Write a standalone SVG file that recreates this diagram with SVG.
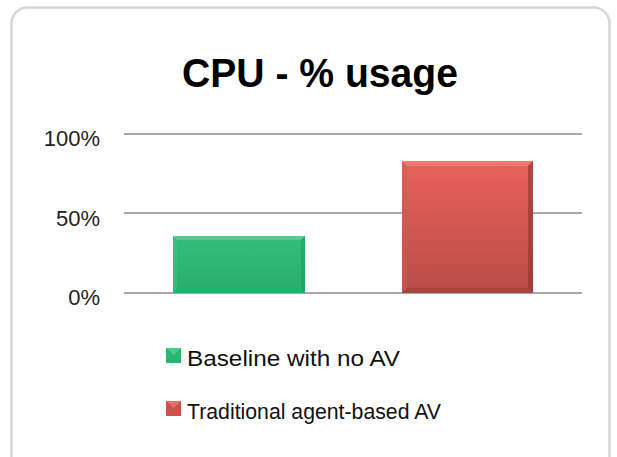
<svg xmlns="http://www.w3.org/2000/svg" width="617" height="457" viewBox="0 0 617 457">
  <style>
    .grid { stroke: #a9a9a9; stroke-width: 2; }
    .tick { font-family: "Liberation Sans", Arial, sans-serif; font-size: 22px; fill: #222; text-anchor: end; }
    .legend { font-family: "Liberation Sans", Arial, sans-serif; font-size: 22px; fill: #111; }
    .title { font-family: "Liberation Sans", Arial, sans-serif; font-size: 40px; font-weight: bold; fill: #000; text-anchor: middle; }
  </style>
  <defs>
    <linearGradient id="gGreen" x1="0" y1="0" x2="0" y2="1">
      <stop offset="0" stop-color="#35bd7e"/>
      <stop offset="1" stop-color="#27ae6c"/>
    </linearGradient>
    <linearGradient id="gRed" x1="0" y1="0" x2="0" y2="1">
      <stop offset="0" stop-color="#e9625b"/>
      <stop offset="1" stop-color="#b94c47"/>
    </linearGradient>
  </defs>
  <rect x="0" y="0" width="617" height="457" fill="#ffffff"/>
  <rect id="frame" x="11.5" y="7.5" width="598" height="470" rx="16" ry="16" fill="#ffffff" stroke="#d6d6d6" stroke-width="2.5"/>
  <text id="title" class="title" x="320" y="87" textLength="276" lengthAdjust="spacingAndGlyphs">CPU - % usage</text>
  <g id="axis">
    <line class="grid" x1="124" y1="134" x2="582" y2="134"/>
    <line class="grid" x1="124" y1="213" x2="582" y2="213"/>
    <line class="grid" x1="124" y1="293" x2="582" y2="293"/>
    <text class="tick" x="100" y="146">100%</text>
    <text class="tick" x="100" y="226">50%</text>
    <text class="tick" x="100" y="305">0%</text>
  </g>
  <g id="bar-baseline">
    <rect x="173" y="236" width="132" height="57" fill="url(#gGreen)"/>
    <path d="M173 236 H305 L301 240 H177 Z" fill="#6fd3a1" opacity="0.6"/>
    <path d="M305 236 V293 L301 289 V240 Z" fill="#1e9a5c" opacity="0.5"/>
    <path d="M173 236 V293 L177 289 V240 Z" fill="#3ec487" opacity="0.5"/>
  </g>
  <g id="bar-traditional">
    <rect x="402" y="161" width="131" height="132" fill="url(#gRed)"/>
    <path d="M402 161 H533 L528 166 H407 Z" fill="#f08a83" opacity="0.6"/>
    <path d="M533 161 V293 L528 288 V166 Z" fill="#8c3431" opacity="0.6"/>
    <path d="M402 161 V293 L407 288 V166 Z" fill="#d45a54" opacity="0.5"/>
    <path d="M402 293 H533 L528 288 H407 Z" fill="#9b3f3b" opacity="0.6"/>
  </g>
  <g id="legend-baseline">
    <rect x="166" y="348" width="15" height="15" fill="#2cb572"/>
    <path d="M166 348 H181 L173.5 355 Z" fill="#5fcf96" opacity="0.7"/>
    <text class="legend" x="187" y="366" textLength="213" lengthAdjust="spacingAndGlyphs">Baseline with no AV</text>
  </g>
  <g id="legend-traditional">
    <rect x="166" y="401" width="15" height="15" fill="#c9524c"/>
    <path d="M166 401 H181 L173.5 408 Z" fill="#e8807a" opacity="0.7"/>
    <text class="legend" x="187" y="419" textLength="254" lengthAdjust="spacingAndGlyphs">Traditional agent-based AV</text>
  </g>
</svg>
